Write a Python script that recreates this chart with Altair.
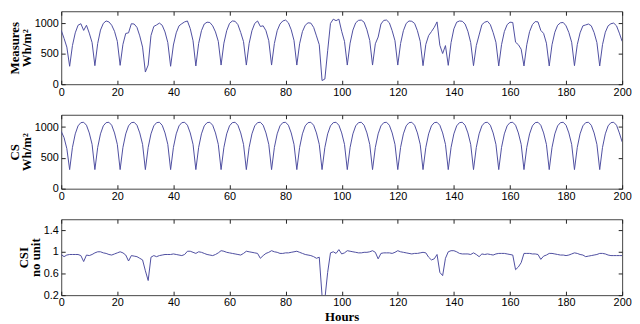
import altair as alt
import pandas as pd

hours = list(range(201))

# Clear-sky irradiance (Wh/m2)
cs = [930, 830, 650,
      310, 670, 890, 1020, 1072, 1078, 1030, 905, 720,
      310, 670, 890, 1020, 1072, 1078, 1030, 905, 720,
      310, 670, 890, 1020, 1072, 1078, 1030, 905, 720,
      310, 670, 890, 1020, 1072, 1078, 1030, 905, 720,
      310, 670, 890, 1020, 1072, 1078, 1030, 905, 720,
      310, 670, 890, 1020, 1072, 1078, 1030, 905, 720,
      310, 670, 890, 1020, 1072, 1078, 1030, 905, 720,
      310, 670, 890, 1020, 1072, 1078, 1030, 905, 720,
      310, 670, 890, 1020, 1072, 1078, 1030, 905, 720,
      310, 670, 890, 1020, 1072, 1078, 1030, 905, 720,
      310, 670, 890, 1020, 1072, 1078, 1030, 905, 720,
      310, 670, 890, 1020, 1072, 1078, 1030, 905, 720,
      310, 670, 890, 1020, 1072, 1078, 1030, 905, 720,
      310, 670, 890, 1020, 1072, 1078, 1030, 905, 720,
      310, 670, 890, 1020, 1072, 1078, 1030, 905, 720,
      310, 670, 890, 1020, 1072, 1078, 1030, 905, 720,
      310, 670, 890, 1020, 1072, 1078, 1030, 905, 720,
      310, 670, 890, 1020, 1072, 1078, 1030, 905, 720,
      310, 670, 890, 1020, 1072, 1078, 1030, 905, 720,
      310, 670, 890, 1020, 1072, 1078, 1030, 905, 720,
      310, 670, 890, 1020, 1072, 1078, 1030, 905, 720,
      310, 670, 890, 1020, 1072, 1078, 1030, 905, 760]

measures = [885, 755, 610,
            295, 635, 845, 970, 995, 885, 970, 840, 685,
            305, 670, 890, 1000, 1040, 1025, 970, 870, 705,
            310, 655, 835, 845, 995, 990, 935, 795, 610,
            200, 315, 800, 950, 975, 1005, 970, 860, 685,
            295, 645, 845, 960, 995, 1025, 1040, 915, 715,
            300, 670, 880, 990, 1020, 1015, 960, 860, 705,
            315, 675, 880, 1000, 1040, 1035, 980, 850, 700,
            315, 670, 880, 1000, 1040, 950, 960, 880, 715,
            315, 670, 880, 990, 1040, 1055, 1010, 895, 720,
            315, 665, 865, 970, 1010, 1005, 935, 795, 650,
            60, 85, 550, 1000, 1070, 1045, 1070, 870, 705,
            315, 675, 890, 1010, 1050, 1055, 1020, 895, 720,
            315, 665, 775, 990, 1050, 1055, 1010, 880, 715,
            315, 670, 880, 1000, 1040, 1035, 1000, 880, 705,
            305, 655, 800, 865, 935, 1025, 640, 505, 635,
            310, 685, 910, 1020, 1040, 1035, 990, 870, 685,
            305, 635, 810, 980, 1020, 1035, 980, 850, 690,
            300, 650, 865, 980, 1020, 1015, 690, 650, 575,
            300, 650, 865, 980, 1030, 1025, 885, 835, 675,
            300, 650, 855, 970, 1010, 1015, 960, 850, 690,
            305, 650, 845, 960, 975, 990, 960, 850, 685,
            300, 650, 855, 960, 995, 1005, 960, 840, 705]

# Clear-sky index (no unit)
csi = [0.95, 0.91, 0.94,
       0.95, 0.95, 0.95, 0.95, 0.93, 0.82, 0.94, 0.93, 0.95,
       0.98, 1.00, 1.00, 0.98, 0.97, 0.95, 0.94, 0.96, 0.98,
       1.00, 0.98, 0.94, 0.83, 0.93, 0.92, 0.91, 0.88, 0.85,
       0.65, 0.47, 0.90, 0.93, 0.91, 0.93, 0.94, 0.95, 0.95,
       0.95, 0.96, 0.95, 0.94, 0.93, 0.95, 1.01, 1.01, 0.99,
       0.97, 1.00, 0.99, 0.97, 0.95, 0.94, 0.93, 0.95, 0.98,
       1.02, 1.01, 0.99, 0.98, 0.97, 0.96, 0.95, 0.94, 0.97,
       1.01, 1.00, 0.99, 0.98, 0.97, 0.88, 0.93, 0.97, 0.99,
       1.02, 1.00, 0.99, 0.97, 0.97, 0.98, 0.98, 0.99, 1.00,
       1.01, 0.99, 0.97, 0.95, 0.94, 0.93, 0.91, 0.88, 0.90,
       0.19, 0.13, 0.62, 0.98, 1.00, 0.97, 1.04, 0.96, 0.98,
       1.02, 1.01, 1.00, 0.99, 0.98, 0.98, 0.99, 0.99, 1.00,
       1.02, 0.99, 0.87, 0.97, 0.98, 0.98, 0.98, 0.97, 0.99,
       1.02, 1.00, 0.99, 0.98, 0.97, 0.96, 0.97, 0.97, 0.98,
       0.99, 0.98, 0.90, 0.85, 0.87, 0.95, 0.62, 0.56, 0.88,
       1.00, 1.02, 1.02, 1.00, 0.97, 0.96, 0.96, 0.96, 0.95,
       0.98, 0.95, 0.91, 0.96, 0.95, 0.96, 0.95, 0.94, 0.96,
       0.97, 0.97, 0.97, 0.96, 0.95, 0.94, 0.67, 0.72, 0.80,
       0.97, 0.97, 0.97, 0.96, 0.96, 0.95, 0.86, 0.92, 0.94,
       0.97, 0.97, 0.96, 0.95, 0.94, 0.94, 0.93, 0.94, 0.96,
       0.98, 0.97, 0.95, 0.94, 0.91, 0.92, 0.93, 0.94, 0.95,
       0.97, 0.97, 0.96, 0.94, 0.93, 0.93, 0.93, 0.93, 0.93]

x_ticks = [0, 20, 40, 60, 80, 100, 120, 140, 160, 180, 200]
wh_ticks = [0, 500, 1000]
csi_ticks = [0.2, 0.6, 1.0, 1.4]

assert len(cs) == len(measures) == len(csi) == len(hours)

df = pd.DataFrame({"Hour": hours, "Measures": measures, "CS": cs, "CSI": csi})

LINE = "#4d4d9f"
W = 569


def panel(col, ytitle, ydomain, yticks, yfmt, h, xtitle=None):
    xscale = alt.Scale(domain=[0, 200], nice=False, zero=False)
    yscale = alt.Scale(domain=ydomain, nice=False, zero=False)
    base = alt.Chart(df)
    x_kw = dict(values=x_ticks, orient="bottom", offset=-4, tickSize=4,
                labelPadding=2, labelFlush=False)
    if xtitle:
        x_kw.update(title=xtitle, titlePadding=3)
        xmain = alt.X("Hour:Q", scale=xscale, axis=alt.Axis(**x_kw))
    else:
        xmain = alt.X("Hour:Q", scale=xscale, axis=alt.Axis(**x_kw), title=None)
    main = base.mark_line(color=LINE, strokeWidth=1, clip=True).encode(
        x=xmain,
        y=alt.Y(f"{col}:Q", scale=yscale,
                axis=alt.Axis(values=yticks, orient="left", offset=-4, tickSize=4,
                              labelPadding=3, format=yfmt, title=ytitle,
                              titlePadding=1, titleLineHeight=12)),
    )
    ghost = base.mark_line(opacity=0, clip=True).encode(
        x=alt.X("Hour:Q", scale=xscale,
                axis=alt.Axis(values=x_ticks, orient="top", offset=-4, tickSize=4,
                              labels=False), title=None),
        y=alt.Y(f"{col}:Q", scale=yscale,
                axis=alt.Axis(values=yticks, orient="right", offset=-4, tickSize=4,
                              labels=False), title=None),
    )
    return alt.layer(main, ghost).resolve_axis(x="independent", y="independent").properties(
        width=W, height=h)


p1 = panel("Measures", ["Measures", "Wh/m²"], [0, 1200], wh_ticks, "d", 74)
p2 = panel("CS", ["CS", "Wh/m²"], [0, 1200], wh_ticks, "d", 75)
p3 = panel("CSI", ["CSI", "no unit"], [0.2, 1.6], csi_ticks, "~g", 77, xtitle="Hours")

chart = alt.vconcat(p1, p2, p3, spacing=16).properties(
    padding={"left": 0, "top": 0, "right": 0, "bottom": 0}
).configure_view(stroke="#444", strokeWidth=1).configure_axis(
    labelFont="Liberation Sans", labelFontSize=11, labelColor="#000",
    tickColor="#222", tickWidth=1, domain=False, grid=False,
    titleFont="Liberation Serif", titleFontSize=13, titleFontWeight="bold",
    titleColor="#000",
)

chart.save("out.html", embed_options={"renderer": "svg", "actions": False})
